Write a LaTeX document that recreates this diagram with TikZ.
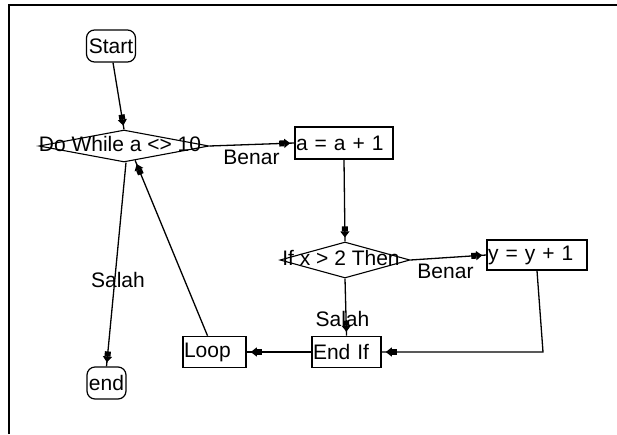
\documentclass[tikz,border=0pt]{standalone}
\usepackage{fontspec}
\setmainfont{Liberation Sans}
\usetikzlibrary{shapes.geometric,arrows.meta,decorations.markings,calc}
\begin{document}
\begin{tikzpicture}[x=1pt,y=-1pt,
  every node/.style={font=\fontsize{21}{23}\selectfont, inner sep=0pt},
  term/.style={draw, line width=1.2pt, rounded corners=8pt, minimum height=32pt},
  dia/.style={draw, diamond, line width=1.1pt, inner sep=0pt},
  box/.style={draw, line width=1.6pt, rectangle, inner xsep=1pt, align=left},
  flow/.style={draw, line width=1.3pt, postaction={decorate},
    decoration={markings, mark=at position -4pt with
      {\arrow{Square[length=5pt,width=6pt,sep=0pt]Triangle[length=6pt,width=9pt,sep=0pt]}}}}
]
\useasboundingbox (0,0) rectangle (617,434);
% frame
\draw[line width=2.2pt] (8.7,434) -- (8.7,5) -- (617,5);

% nodes
\node[term, minimum width=49pt] (start) at (111,46) {Start};
\node[dia, minimum width=170pt, minimum height=32pt] (dw) at (124,146) {};
\node (dwlbl) at (120,144) {Do While a <> 10};
\node[box, text width=96pt, minimum height=32pt] (a1) at (344,143) {a = a + 1};
\node[dia, minimum width=130pt, minimum height=36pt] (ifd) at (345,260) {};
\node (iflbl) at (341,258) {If x > 2 Then};
\node[box, text width=98pt, minimum height=30pt] (y1) at (537,255) {y = y + 1};
\node[box, text width=67pt, minimum height=31pt] (endif) at (346.5,352) {End If};
\node[box, text width=61pt, minimum height=31pt] (loop) at (214.5,352) {Loop};
\node[term, minimum width=39pt] (end) at (106.5,383) {end};

% labels
\node (benar1) at (251.5,157.5) {Benar};
\node (benar2) at (445.5,271.5) {Benar};
\node (salah1) at (118,280) {Salah};
\node (salah2) at (342.5,318.5) {Salah};

% connectors
\draw[flow] ([xshift=2pt]start.south) -- (dw.north);
\draw[flow] (dw.east) -- (a1.west);
\draw[flow] (a1.south) -- (ifd.north);
\draw[flow] (ifd.east) -- (y1.west);
\draw[flow] (ifd.south) -- (endif.north);
\coordinate (turn) at (543,352);
\draw[flow] (y1.south) -- (turn) -- (endif.east);
\draw[flow] (endif.west) -- (loop.east);
\draw[flow] ([xshift=-7pt]loop.north) -- ($(dw.south)!0.13!(dw.east)$);
\draw[flow] ([xshift=2pt]dw.south) -- (end.north);
\end{tikzpicture}
\end{document}
